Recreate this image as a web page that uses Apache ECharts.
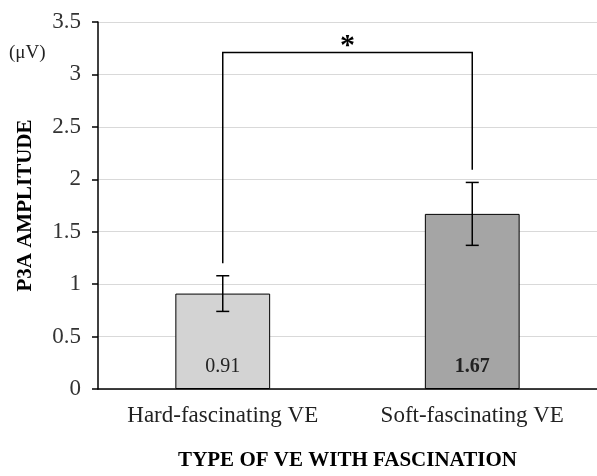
<!DOCTYPE html>
<html>
<head>
<meta charset="utf-8">
<script src="https://cdn.jsdelivr.net/npm/echarts@6/dist/echarts.min.js"></script>
<style>
  html, body { margin: 0; padding: 0; background: #fff; }
  #main { width: 597px; height: 476px; }
</style>
</head>
<body>
<div id="main"></div>
<script>
var categories = ['Hard-fascinating VE', 'Soft-fascinating VE'];
var means = [0.91, 1.67];
var errors = [0.17, 0.30];
var barColors = ['#d3d3d3', '#a5a5a5'];
var yTicks = [0, 0.5, 1, 1.5, 2, 2.5, 3, 3.5];
// significance bracket: [left leg bottom, right leg bottom, top]
var bracket = [1.20, 2.09, 3.21];
var sigMark = '*';

var serif = 'Liberation Serif';
var myChart = echarts.init(document.getElementById('main'));

var errData = means.map(function (m, i) { return [i, m - errors[i], m + errors[i]]; });

option = {
    animation: false,
    grid: { left: 98, right: 0, top: 22, bottom: 86 },
    xAxis: {
        type: 'category',
        data: categories,
        name: 'TYPE OF VE WITH FASCINATION',
        nameLocation: 'middle',
        nameGap: 61,
        nameTextStyle: { fontFamily: serif, fontWeight: 'bold', fontSize: 21, color: '#000' },
        axisLine: { lineStyle: { color: '#000', width: 1.5 } },
        axisTick: { show: false },
        axisLabel: { fontFamily: serif, fontSize: 23, color: '#222', margin: 15 }
    },
    yAxis: {
        type: 'value',
        min: 0,
        max: yTicks[yTicks.length - 1],
        interval: 0.5,
        name: 'P3A AMPLITUDE',
        nameLocation: 'middle',
        nameGap: 62,
        nameTextStyle: { fontFamily: serif, fontWeight: 'bold', fontSize: 21, color: '#000' },
        axisLine: { show: true, lineStyle: { color: '#000', width: 1.5 } },
        axisTick: { show: true, length: 6, lineStyle: { color: '#000', width: 1.5 } },
        axisLabel: { fontFamily: serif, fontSize: 23, color: '#333', margin: 17 },
        splitLine: { lineStyle: { color: '#d9d9d9', width: 1 } }
    },
    graphic: [
        { type: 'text', left: 9, top: 44,
          style: { text: '(\u03bcV)', fontFamily: serif, fontSize: 19, fill: '#222' } }
    ],
    series: [
        {
            type: 'bar',
            barWidth: '38%',
            data: means.map(function (v, i) {
                return {
                    value: v,
                    itemStyle: { color: barColors[i], borderColor: '#000', borderWidth: 1 },
                    label: { fontWeight: i === 1 ? 'bold' : 'normal' }
                };
            }),
            label: {
                show: true,
                position: 'insideBottom',
                distance: 12,
                fontFamily: serif,
                fontSize: 20,
                color: '#222'
            },
            z: 2
        },
        {
            type: 'custom',
            data: errData,
            renderItem: function (params, api) {
                var lo = api.coord([api.value(0), api.value(1)]);
                var hi = api.coord([api.value(0), api.value(2)]);
                var w = 6.5;
                var st = { stroke: '#000', lineWidth: 1.5 };
                return {
                    type: 'group',
                    children: [
                        { type: 'line', shape: { x1: hi[0], y1: hi[1], x2: lo[0], y2: lo[1] }, style: st },
                        { type: 'line', shape: { x1: hi[0] - w, y1: hi[1], x2: hi[0] + w, y2: hi[1] }, style: st },
                        { type: 'line', shape: { x1: lo[0] - w, y1: lo[1], x2: lo[0] + w, y2: lo[1] }, style: st }
                    ]
                };
            },
            z: 5
        },
        {
            type: 'custom',
            data: [bracket],
            renderItem: function (params, api) {
                var a = api.coord([0, api.value(0)]);
                var b = api.coord([1, api.value(1)]);
                var topY = api.coord([0, api.value(2)])[1];
                var st = { stroke: '#000', lineWidth: 1.5, fill: null };
                return {
                    type: 'group',
                    children: [
                        { type: 'polyline', shape: { points: [[a[0], a[1]], [a[0], topY], [b[0], topY], [b[0], b[1]]] }, style: st },
                        { type: 'text', x: (a[0] + b[0]) / 2, y: topY + 9,
                          style: { text: sigMark, fontFamily: serif, fontWeight: 'bold', fontSize: 30,
                                   fill: '#000', align: 'center', verticalAlign: 'bottom' } }
                    ]
                };
            },
            z: 5
        }
    ]
};

myChart.setOption(option);
</script>
</body>
</html>
